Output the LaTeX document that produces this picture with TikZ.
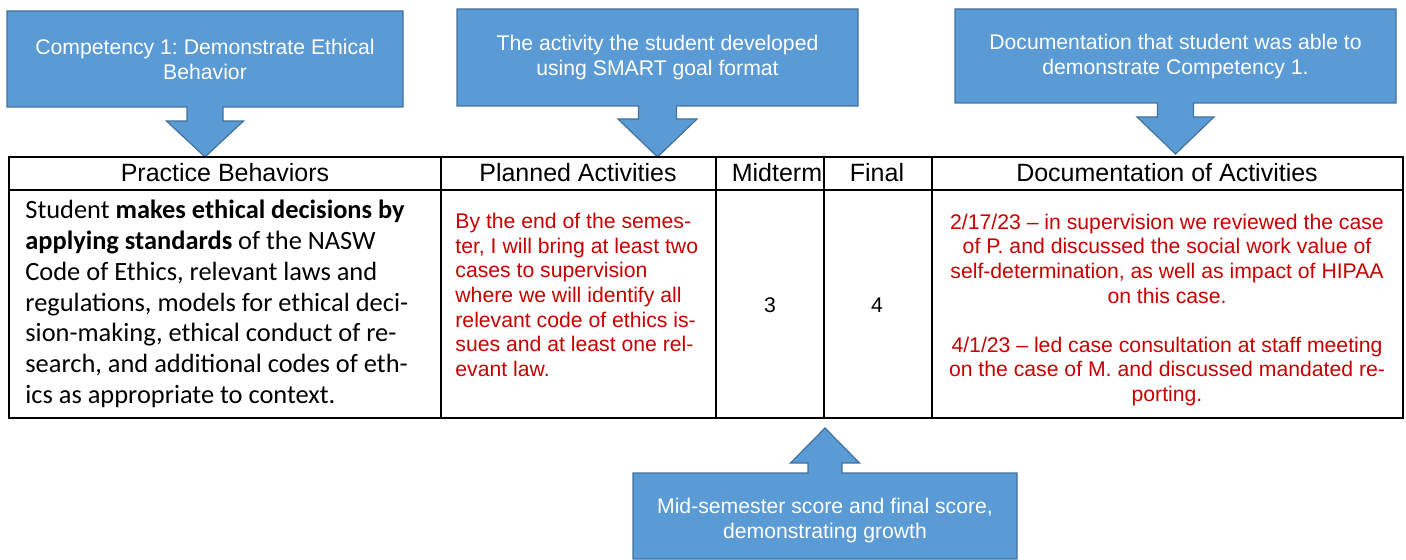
\documentclass[tikz,border=0pt]{standalone}
\usepackage{fontspec}
\setmainfont{Liberation Sans}
\newfontfamily\calibri{Carlito}
\frenchspacing

\definecolor{callblue}{RGB}{91,155,213}
\definecolor{calledge}{RGB}{65,113,156}
\definecolor{planred}{RGB}{200,0,0}

\tikzset{
  callout/.style={fill=callblue, draw=calledge, line width=0.6pt, line join=miter},
  calltext/.style={text=white, align=center, inner sep=0pt, font=\fontsize{10.6}{12.5}\selectfont},
  headtext/.style={anchor=base, inner sep=0pt, font=\fontsize{12.5}{15}\selectfont},
  redtext/.style={text=planred, inner sep=0pt, font=\fontsize{10.6}{12.3}\selectfont},
  grid/.style={line width=1.1pt}
}

\begin{document}
\begin{tikzpicture}[x=0.5pt,y=-0.5pt]
\useasboundingbox (0,0) rectangle (1406,560);

% callouts: left/right, outer edge, stem edge, stem and head half widths, head line, tip
\foreach \l/\r/\t/\b/\s/\h/\hy/\ty in {7/403/11/107/18/38.5/121/157,
    457/858/9/106/19/39.5/119/157, 955/1396/9/103/18/38.5/117/154,
    633/1017/559/473/17/34.5/463/428}
{
  \pgfmathsetmacro\c{(\l+\r)/2}
  \draw[callout] (\l,\t) -- (\r,\t) -- (\r,\b) -- (\c+\s,\b) -- (\c+\s,\hy)
    -- (\c+\h,\hy) -- (\c,\ty) -- (\c-\h,\hy) -- (\c-\s,\hy) -- (\c-\s,\b)
    -- (\l,\b) -- cycle;
}
\node[calltext] (comp) at (205,59) {Competency 1: Demonstrate Ethical\\Behavior};
\node[calltext] (smart) at (657.5,58) {The activity the student developed\\using SMART goal format};
\node[calltext] (docu) at (1175.5,57) {Documentation that student was able to\\demonstrate Competency 1.};
\node[calltext] (score) at (825,521) {Mid-semester score and final score,\\demonstrating growth};

% table
\draw[grid] (9,157) rectangle (1403,418);
\draw[grid] (9,190) -- (1403,190);
\foreach \x in {441,716,824,932}
  \draw[grid] (\x,157) -- (\x,418);

\node[headtext] (hpb) at (225,182) {Practice Behaviors};
\node[headtext] (hpa) at (578,182) {Planned Activities};
\node[headtext] (hmid) at (777,182) {Midterm};
\node[headtext] (hfin) at (877,182) {Final};
\node[headtext] (hdoc) at (1167,182) {Documentation of Activities};

\node[anchor=west, align=left, inner sep=0pt, font=\calibri\fontsize{13.2}{15.4}\selectfont] (behav) at (25,304)
  {Student \textbf{makes ethical decisions by}\\
   \textbf{applying standards} of the NASW\\
   Code of Ethics, relevant laws and\\
   regulations, models for ethical deci-\\
   sion-making, ethical conduct of re-\\
   search, and additional codes of eth-\\
   ics as appropriate to context.};

\node[redtext, anchor=west, align=left] (plan) at (455,295)
  {By the end of the semes-\\
   ter, I will bring at least two\\
   cases to supervision\\
   where we will identify all\\
   relevant code of ethics is-\\
   sues and at least one rel-\\
   evant law.};

\node[inner sep=0pt, font=\fontsize{10.6}{12.3}\selectfont] (mid) at (770,305) {3};
\node[inner sep=0pt, font=\fontsize{10.6}{12.3}\selectfont] (fin) at (877,305) {4};

\node[redtext, align=center] (docs) at (1167,310)
  {2/17/23 – in supervision we reviewed the case\\
   of P. and discussed the social work value of\\
   self-determination, as well as impact of HIPAA\\
   on this case.\\[12.3pt]
   4/1/23 – led case consultation at staff meeting\\
   on the case of M. and discussed mandated re-\\
   porting.};
\end{tikzpicture}
\end{document}
